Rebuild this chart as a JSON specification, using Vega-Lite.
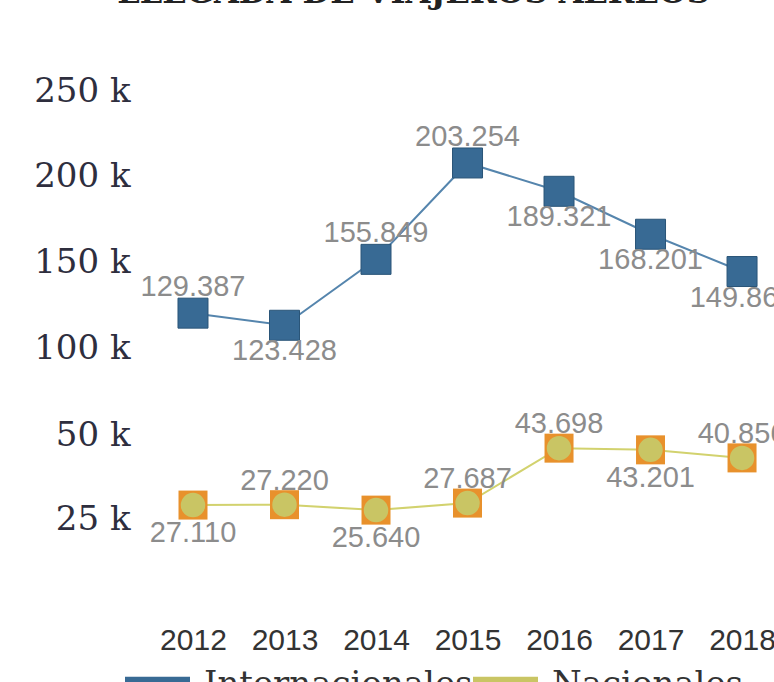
{
  "$schema": "https://vega.github.io/schema/vega-lite/v6.json",
  "width": 627,
  "height": 540,
  "autosize": {"type": "none"},
  "padding": {"left": 147, "top": 60, "right": 0, "bottom": 82},
  "background": "white",
  "title": {
    "text": "LLEGADA DE VIAJEROS AÉREOS",
    "frame": "group",
    "anchor": "middle",
    "dx": -47,
    "offset": 25,
    "baseline": "alphabetic",
    "font": "DejaVu Serif",
    "fontSize": 32,
    "fontWeight": "bold",
    "color": "#222222"
  },
  "config": {
    "locale": {"number": {"decimal": ",", "thousands": ".", "grouping": [3], "currency": ["", " €"]}},
    "view": {"stroke": null},
    "axis": {"grid": false, "domain": false, "ticks": false, "title": null},
    "axisX": {"labelFont": "Liberation Sans", "labelFontSize": 30, "labelColor": "#333333", "labelPadding": 25, "labelAngle": 0},
    "axisY": {"labelFont": "DejaVu Serif", "labelFontSize": 34, "labelColor": "#2e2e3e", "labelPadding": 17}
  },
  "data": {
    "values": [
      {"anio": "2012", "serie": "Internacionales", "valor": 129387},
      {"anio": "2013", "serie": "Internacionales", "valor": 123428},
      {"anio": "2014", "serie": "Internacionales", "valor": 155849},
      {"anio": "2015", "serie": "Internacionales", "valor": 203254},
      {"anio": "2016", "serie": "Internacionales", "valor": 189321},
      {"anio": "2017", "serie": "Internacionales", "valor": 168201},
      {"anio": "2018", "serie": "Internacionales", "valor": 149862},
      {"anio": "2012", "serie": "Nacionales", "valor": 27110},
      {"anio": "2013", "serie": "Nacionales", "valor": 27220},
      {"anio": "2014", "serie": "Nacionales", "valor": 25640},
      {"anio": "2015", "serie": "Nacionales", "valor": 27687},
      {"anio": "2016", "serie": "Nacionales", "valor": 43698},
      {"anio": "2017", "serie": "Nacionales", "valor": 43201},
      {"anio": "2018", "serie": "Nacionales", "valor": 40856}
    ]
  },
  "encoding": {
    "x": {
      "field": "anio",
      "type": "ordinal",
      "title": null,
      "scale": {"type": "point", "padding": 0.426, "align": 0.59}
    }
  },
  "layer": [
    {
      "mark": {"type": "point", "opacity": 0},
      "encoding": {
        "y": {
          "field": "valor",
          "type": "quantitative",
          "scale": {
            "type": "linear",
            "domain": [25000, 50000, 100000, 150000, 200000, 250000],
            "range": [459, 375, 288, 202, 116, 31],
            "zero": false,
            "nice": false
          },
          "axis": {
            "values": [25000, 50000, 100000, 150000, 200000, 250000],
            "labelExpr": "format(datum.value / 1000, 'd') + ' k'",
            "title": null
          }
        }
      }
    },
    {
      "transform": [{"filter": "datum.serie === 'Internacionales'"}],
      "encoding": {
        "y": {
          "field": "valor",
          "type": "quantitative",
          "scale": {"domain": [-11700, 253900], "zero": false, "nice": false},
          "axis": null
        }
      },
      "layer": [
        {"mark": {"type": "line", "color": "#5585ad", "strokeWidth": 2}},
        {
          "mark": {"type": "point", "shape": "square", "filled": true, "size": 900, "opacity": 1, "stroke": "#2a5578", "strokeWidth": 1},
          "encoding": {
            "color": {
              "field": "serie",
              "type": "nominal",
              "scale": {"domain": ["Internacionales", "Nacionales"], "range": ["#386a94", "#c9c564"]},
              "legend": {
                "title": null,
                "orient": "none",
                "legendX": -22,
                "legendY": 592,
                "direction": "horizontal",
                "symbolType": "M-1,-0.25H1V0.25H-1Z",
                "symbolSize": 4225,
                "symbolStrokeWidth": 0,
                "symbolOpacity": 1,
                "labelFont": "DejaVu Serif",
                "labelFontSize": 34,
                "labelColor": "#333333",
                "labelOffset": 14,
                "columnPadding": 0,
                "labelLimit": 0
              }
            }
          }
        },
        {
          "transform": [{"filter": {"field": "anio", "oneOf": ["2012", "2014", "2015"]}}],
          "mark": {"type": "text", "font": "Liberation Sans", "fontSize": 29, "color": "#8c8c8c", "baseline": "middle", "dy": -26},
          "encoding": {"text": {"field": "valor", "type": "quantitative", "format": ",d"}}
        },
        {
          "transform": [{"filter": {"field": "anio", "oneOf": ["2013", "2016", "2017", "2018"]}}],
          "mark": {"type": "text", "font": "Liberation Sans", "fontSize": 29, "color": "#8c8c8c", "baseline": "middle", "dy": 26},
          "encoding": {"text": {"field": "valor", "type": "quantitative", "format": ",d"}}
        }
      ]
    },
    {
      "transform": [{"filter": "datum.serie === 'Nacionales'"}],
      "encoding": {
        "y": {
          "field": "valor",
          "type": "quantitative",
          "scale": {"domain": [-550, 156800], "zero": false, "nice": false},
          "axis": null
        }
      },
      "layer": [
        {"mark": {"type": "line", "color": "#d2d26e", "strokeWidth": 2}},
        {"mark": {"type": "point", "shape": "square", "filled": true, "size": 841, "opacity": 1, "color": "#e8912c"}},
        {
          "mark": {"type": "point", "shape": "circle", "filled": true, "size": 600, "opacity": 1},
          "encoding": {
            "color": {
              "field": "serie",
              "type": "nominal",
              "scale": {"domain": ["Internacionales", "Nacionales"], "range": ["#386a94", "#c9c564"]},
              "legend": {
                "title": null,
                "orient": "none",
                "legendX": -22,
                "legendY": 592,
                "direction": "horizontal",
                "symbolType": "M-1,-0.25H1V0.25H-1Z",
                "symbolSize": 4225,
                "symbolStrokeWidth": 0,
                "symbolOpacity": 1,
                "labelFont": "DejaVu Serif",
                "labelFontSize": 34,
                "labelColor": "#333333",
                "labelOffset": 14,
                "columnPadding": 0,
                "labelLimit": 0
              }
            }
          }
        },
        {
          "transform": [{"filter": {"field": "anio", "oneOf": ["2013", "2015", "2016", "2018"]}}],
          "mark": {"type": "text", "font": "Liberation Sans", "fontSize": 29, "color": "#8c8c8c", "baseline": "middle", "dy": -24},
          "encoding": {"text": {"field": "valor", "type": "quantitative", "format": ",d"}}
        },
        {
          "transform": [{"filter": {"field": "anio", "oneOf": ["2012", "2014", "2017"]}}],
          "mark": {"type": "text", "font": "Liberation Sans", "fontSize": 29, "color": "#8c8c8c", "baseline": "middle", "dy": 28},
          "encoding": {"text": {"field": "valor", "type": "quantitative", "format": ",d"}}
        }
      ]
    }
  ],
  "resolve": {"scale": {"y": "independent"}}
}
